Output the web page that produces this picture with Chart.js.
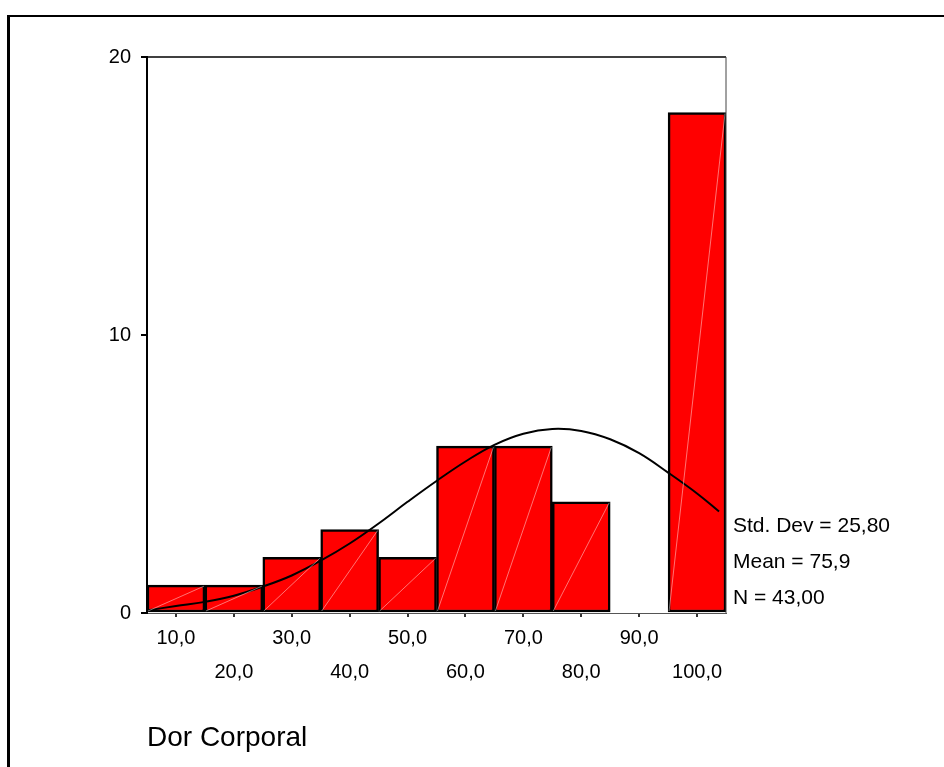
<!DOCTYPE html>
<html>
<head>
<meta charset="utf-8">
<script src="https://cdn.jsdelivr.net/npm/chart.js@4/dist/chart.umd.min.js"></script>
<style>
  html, body { margin: 0; padding: 0; background: #fff; }
  #wrap { position: relative; width: 944px; height: 767px; overflow: hidden; }
  #frame { position: absolute; left: 7px; top: 15px; right: -10px; bottom: -10px;
           border-top: 2px solid #000; border-left: 3px solid #000; pointer-events: none; }
  canvas { position: absolute; left: 0; top: 0; }
</style>
</head>
<body>
<div id="wrap">
  <canvas id="c" width="944" height="767"></canvas>
  <div id="frame"></div>
</div>
<script>
// histogram bins (midpoints) and counts
const binCenters = [10, 20, 30, 40, 50, 60, 70, 80, 90, 100]
const counts = [1, 1, 2, 3, 2, 6, 6, 4, 0, 18]

// normal curve
const curveX = [5.2, 10, 15, 20, 25, 30, 35, 40, 45, 50, 55, 60, 65, 70, 75, 80, 85, 90, 95, 100, 103.8]
const curveY = [0.1, 0.25, 0.4, 0.62, 0.95, 1.35, 1.88, 2.5, 3.22, 4.0, 4.75, 5.45, 6.05, 6.45, 6.62, 6.55, 6.25, 5.75, 5.05, 4.3, 3.65]

const xTicks = [10, 20, 30, 40, 50, 60, 70, 80, 90, 100]
const yTicks = [0, 10, 20]
const statLines = ['Std. Dev = 25,80', 'Mean = 75,9', 'N = 43,00']
const axisTitle = 'Dor Corporal'

const FONT = "'Liberation Sans', Arial, sans-serif"

const fmt = v => v.toFixed(1).replace('.', ',')

// frame on top/right of plot, faint diagonals in bars, stats text
const extras = {
  id: 'extras',
  afterDatasetsDraw(chart) {
    const ctx = chart.ctx
    const meta = chart.getDatasetMeta(1)
    ctx.save()
    ctx.strokeStyle = 'rgba(255,255,255,0.45)'
    ctx.lineWidth = 1
    meta.data.forEach((bar, i) => {
      if (!counts[i]) return
      const p = bar.getProps(['x', 'y', 'base', 'width'], true)
      ctx.beginPath()
      ctx.moveTo(p.x - p.width / 2 + 1, p.base - 1)
      ctx.lineTo(p.x + p.width / 2 - 1, p.y + 1)
      ctx.stroke()
    })
    ctx.restore()
  },
  afterDraw(chart) {
    const { ctx, chartArea: a } = chart
    ctx.save()
    ctx.strokeStyle = '#000'
    ctx.lineWidth = 1.5
    ctx.beginPath()
    ctx.moveTo(a.left, a.top)
    ctx.lineTo(a.right, a.top)
    ctx.stroke()
    ctx.strokeStyle = '#444'
    ctx.lineWidth = 1
    ctx.beginPath()
    ctx.moveTo(a.right, a.top)
    ctx.lineTo(a.right, a.bottom)
    ctx.stroke()

    ctx.fillStyle = '#000'
    ctx.font = '21px ' + FONT
    ctx.textAlign = 'left'
    ctx.textBaseline = 'middle'
    statLines.forEach((s, i) => {
      ctx.fillText(s, a.right + 7, a.bottom - 15 - (statLines.length - 1 - i) * 36)
    })
    ctx.restore()
  },
}

new Chart(document.getElementById('c'), {
  type: 'bar',
  data: {
    datasets: [
      {
        type: 'line',
        data: curveX.map((x, i) => ({ x, y: curveY[i] })),
        borderColor: '#000',
        borderWidth: 2,
        pointRadius: 0,
        tension: 0.4,
        fill: false,
        order: 0,
      },
      {
        type: 'bar',
        data: binCenters.map((x, i) => ({ x, y: counts[i] })),
        backgroundColor: '#FF0000',
        borderColor: '#000',
        borderWidth: 2.5,
        borderSkipped: false,
        barPercentage: 1,
        categoryPercentage: 1,
        order: 1,
      },
    ],
  },
  options: {
    responsive: false,
    animation: false,
    layout: { padding: { top: 57, right: 218, left: 0, bottom: 0 } },
    plugins: { legend: { display: false }, tooltip: { enabled: false } },
    scales: {
      x: {
        type: 'linear',
        min: 5,
        max: 105,
        offset: false,
        afterFit: s => { s.height = 154 },
        afterBuildTicks: s => { s.ticks = xTicks.map(v => ({ value: v })) },
        grid: { drawOnChartArea: false, drawTicks: true, tickLength: 4, color: '#333', lineWidth: 2, offset: false },
        border: { display: true, color: '#555', width: 1 },
        ticks: {
          color: '#000',
          padding: 5,
          maxRotation: 0,
          autoSkip: false,
          font: { family: FONT, size: 20, lineHeight: 1.685 },
          callback: (v, i) => (i % 2 === 0 ? [fmt(v)] : ['', fmt(v)]),
        },
        title: {
          display: true,
          text: axisTitle,
          align: 'start',
          color: '#000',
          font: { family: FONT, size: 28, lineHeight: 1.2 },
          padding: { top: 0, bottom: 12 },
        },
      },
      y: {
        min: 0,
        max: 20,
        afterFit: s => { s.width = 147 },
        afterBuildTicks: s => { s.ticks = yTicks.map(v => ({ value: v })) },
        grid: { drawOnChartArea: false, drawTicks: true, tickLength: 6, color: '#000', lineWidth: 2 },
        border: { display: true, color: '#000', width: 2 },
        ticks: { color: '#000', padding: 10, font: { family: FONT, size: 20 } },
      },
    },
  },
  plugins: [extras],
})
</script>
</body>
</html>
